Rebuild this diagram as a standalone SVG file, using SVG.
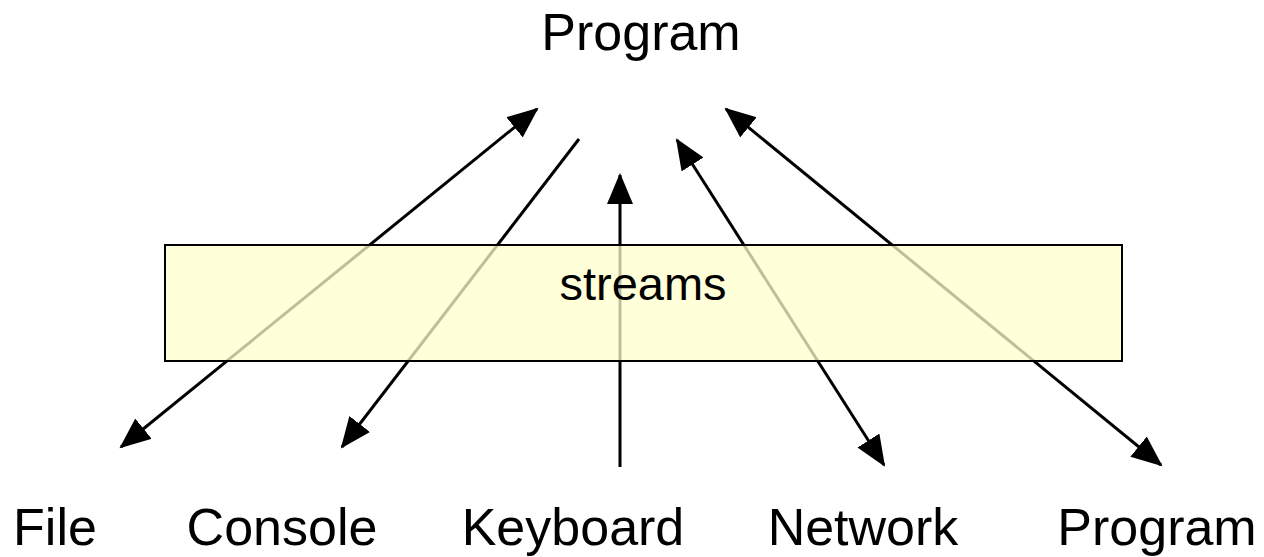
<svg xmlns="http://www.w3.org/2000/svg" width="1264" height="557" viewBox="0 0 1264 557">
<style>
.lbl{font-family:"Liberation Sans",Arial,sans-serif;font-size:52px;fill:#000;text-anchor:middle}
.conn{stroke:#000;stroke-width:3;fill:none}
.box{fill:#FFFFCC;fill-opacity:0.75;stroke:#000;stroke-width:2}
</style>
<defs>
<marker id="ah" markerUnits="userSpaceOnUse" markerWidth="34" markerHeight="28" viewBox="0 0 34 28" refX="29" refY="13" orient="auto-start-reverse">
<path d="M0,0 L31,13 L0,26 z" fill="#000"/>
</marker>
</defs>
<rect width="1264" height="557" fill="#fff"/>
<g id="connectors">
<line class="conn" x1="121" y1="447" x2="537" y2="109" marker-start="url(#ah)" marker-end="url(#ah)"/>
<line class="conn" x1="579" y1="139" x2="342" y2="447" marker-end="url(#ah)"/>
<line class="conn" x1="620" y1="467" x2="620" y2="175" marker-end="url(#ah)"/>
<line class="conn" x1="884" y1="465" x2="677" y2="140" marker-start="url(#ah)" marker-end="url(#ah)"/>
<line class="conn" x1="1161" y1="465" x2="726" y2="109" marker-start="url(#ah)" marker-end="url(#ah)"/>
</g>
<g id="streams">
<rect class="box" x="165" y="245" width="957" height="116"/>
<text class="lbl" x="643" y="300" style="font-size:47px">streams</text>
</g>
<g id="program-top"><text class="lbl" x="641" y="50">Program</text></g>
<g id="file"><text class="lbl" x="55" y="545">File</text></g>
<g id="console"><text class="lbl" x="282" y="545">Console</text></g>
<g id="keyboard"><text class="lbl" x="573" y="545">Keyboard</text></g>
<g id="network"><text class="lbl" x="863" y="545">Network</text></g>
<g id="program-bottom"><text class="lbl" x="1157" y="545">Program</text></g>
</svg>
